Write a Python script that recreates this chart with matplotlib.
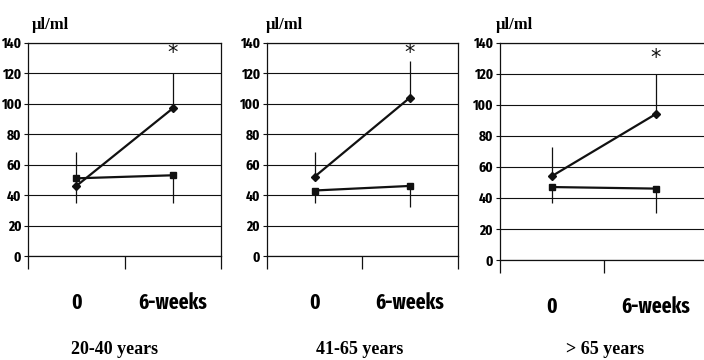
import matplotlib
matplotlib.use('Agg')
import matplotlib.pyplot as plt

# --- data ---
weeks = ['0', '6-weeks']
groups = ['20-40 years', '41-65 years', '> 65 years']

rise_mean = [[46, 97], [52, 104], [54, 94]]
rise_err_up = [[22, 23], [16, 24], [19, 26]]
flat_mean = [[51, 53], [43, 46], [47, 46]]
flat_err_down = [[16, 18], [8, 14], [10, 16]]
star_y = [133, 133, 130]
y_ticks = [0, 20, 40, 60, 80, 100, 120, 140]

narrow = ['Fira Sans Extra Condensed', 'DejaVu Sans']
serif = ['Liberation Serif', 'DejaVu Serif']
ink = '#111111'

fig = plt.figure(figsize=(7.04, 3.6), dpi=100)

# axes boxes in figure fraction (left, bottom, width, height)
boxes = [(0.040, 0.289, 0.274, 0.592),
         (0.379, 0.289, 0.271, 0.592),
         (0.710, 0.278, 0.295, 0.603)]
unit_x = [50, 284, 514]
group_x = [115, 360, 605]

for i, box in enumerate(boxes):
    ax = fig.add_axes(box)
    x = list(range(len(weeks)))

    # one-sided error bars, no caps
    for j in x:
        ax.vlines(j, rise_mean[i][j], rise_mean[i][j] + rise_err_up[i][j],
                  color=ink, lw=0.9)
        ax.vlines(j, flat_mean[i][j] - flat_err_down[i][j], flat_mean[i][j],
                  color=ink, lw=0.9)

    ax.plot(x, rise_mean[i], color=ink, lw=1.6, marker='D', ms=4)
    ax.plot(x, flat_mean[i], color=ink, lw=1.6, marker='s', ms=4.5)
    ax.text(1, star_y[i], '*', ha='center', va='center', fontsize=15,
            color=ink, family='DejaVu Sans')

    ax.set_xlim(-0.5, 1.5)
    ax.set_ylim(0, 140)
    ax.set_yticks(y_ticks)
    ax.set_yticklabels([str(v) for v in y_ticks], family=narrow,
                       fontweight='bold', fontsize=10.5)
    ax.yaxis.grid(True, color=ink, lw=0.8)
    ax.set_axisbelow(True)

    ax.set_xticks([-0.5, 0.5, 1.5])
    ax.set_xticklabels([])
    ax.set_xticks(x, minor=True)
    ax.set_xticklabels(weeks, minor=True, family=narrow, fontweight='bold',
                       fontsize=15)
    ax.tick_params(axis='x', which='major', direction='out', length=9,
                   width=0.9, color=ink)
    ax.tick_params(axis='x', which='minor', length=0, pad=26)
    ax.tick_params(axis='y', direction='out', length=3, width=0.8,
                   color=ink, pad=2)

    for side in ['left', 'right', 'top', 'bottom']:
        ax.spines[side].set_color(ink)
        ax.spines[side].set_linewidth(0.9)

    fig.text(unit_x[i] / 704, 1 - 25 / 360, 'µl/ml', ha='center',
             va='center', family=serif, fontweight='bold', fontsize=12)
    fig.text(group_x[i] / 704, 1 - 350 / 360, groups[i], ha='center',
             va='center', family=serif, fontweight='bold', fontsize=13)

fig.savefig('out.png', dpi=100)
